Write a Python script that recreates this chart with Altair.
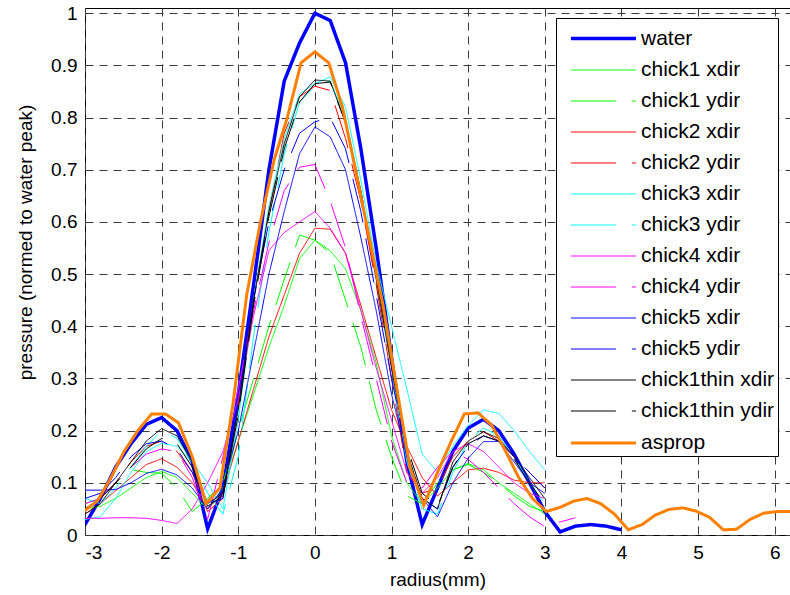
import altair as alt
import pandas as pd

# ---------------- data ----------------
series_names = ["water", "chick1 xdir", "chick1 ydir", "chick2 xdir", "chick2 ydir",
                "chick3 xdir", "chick3 ydir", "chick4 xdir", "chick4 ydir",
                "chick5 xdir", "chick5 ydir", "chick1thin xdir", "chick1thin ydir", "asprop"]
series_colors = ["#0000FF", "#00FF00", "#00FF00", "#FF0000", "#FF0000",
                 "#00FFFF", "#00FFFF", "#FF00FF", "#FF00FF",
                 "#0000FF", "#0000FF", "#000000", "#000000", "#FF8000"]

water_x = [-3.0, -2.8, -2.6, -2.4, -2.2, -2.0, -1.8, -1.6, -1.4, -1.2, -1.0, -0.8, -0.6, -0.4, -0.2,
           0.0, 0.2, 0.4, 0.6, 0.8, 1.0, 1.2, 1.4, 1.6, 1.8, 2.0, 2.2, 2.4, 2.6, 2.8, 3.0,
           3.2, 3.4, 3.6, 3.8, 4.0]
water_y = [0.02, 0.07, 0.13, 0.175, 0.212, 0.225, 0.20, 0.14, 0.012, 0.09, 0.27, 0.48, 0.70, 0.87, 0.943,
           1.0, 0.986, 0.905, 0.74, 0.55, 0.34, 0.14, 0.02, 0.09, 0.16, 0.205, 0.222, 0.20, 0.155, 0.10, 0.045,
           0.006, 0.017, 0.02, 0.017, 0.01]

chick_x = [-3.0, -2.8, -2.6, -2.4, -2.2, -2.0, -1.8, -1.6, -1.4, -1.2, -1.0, -0.8, -0.6, -0.4, -0.2,
           0.0, 0.2, 0.4, 0.6, 0.8, 1.0, 1.2, 1.4, 1.6, 1.8, 2.0, 2.2, 2.4, 2.6, 2.8, 3.0]
chick4_ydir_extra_x = [3.2, 3.4]

chick1_xdir = [0.05, 0.055, 0.07, 0.09, 0.11, 0.122, 0.11, 0.08, 0.05, 0.09, 0.18, 0.27, 0.36, 0.44, 0.53,
               0.565, 0.545, 0.51, 0.43, 0.33, 0.19, 0.10, 0.06, 0.09, 0.125, 0.137, 0.125, 0.10, 0.08, 0.06, 0.04]
chick1_ydir = [0.06, 0.07, 0.10, 0.125, 0.12, 0.118, 0.09, 0.045, 0.07, 0.10, 0.20, 0.30, 0.40, 0.49, 0.575,
               0.565, 0.54, 0.45, 0.36, 0.24, 0.15, 0.075, 0.06, 0.10, 0.125, 0.135, 0.12, 0.10, 0.075, 0.055, 0.045]
chick2_xdir = [0.04, 0.06, 0.085, 0.11, 0.135, 0.146, 0.13, 0.10, 0.05, 0.08, 0.18, 0.28, 0.38, 0.46, 0.54,
               0.588, 0.586, 0.54, 0.44, 0.34, 0.24, 0.17, 0.11, 0.075, 0.10, 0.125, 0.128, 0.12, 0.105, 0.10, 0.10]
chick2_ydir = [0.05, 0.07, 0.10, 0.14, 0.17, 0.18, 0.16, 0.12, 0.045, 0.07, 0.25, 0.45, 0.62, 0.77, 0.84,
               0.86, 0.852, 0.76, 0.64, 0.48, 0.30, 0.12, 0.08, 0.09, 0.15, 0.18, 0.198, 0.18, 0.15, 0.12, 0.09]
chick3_xdir = [0.03, 0.035, 0.07, 0.12, 0.16, 0.176, 0.17, 0.14, 0.10, 0.05, 0.22, 0.45, 0.63, 0.76, 0.845,
               0.865, 0.878, 0.82, 0.68, 0.52, 0.40, 0.28, 0.155, 0.12, 0.17, 0.21, 0.24, 0.233, 0.20, 0.16, 0.125]
chick3_ydir = [0.07, 0.06, 0.09, 0.13, 0.17, 0.20, 0.185, 0.14, 0.08, 0.04, 0.15, 0.38, 0.58, 0.73, 0.83,
               0.86, 0.87, 0.80, 0.66, 0.50, 0.32, 0.14, 0.05, 0.04, 0.12, 0.18, 0.205, 0.19, 0.15, 0.10, 0.06]
chick4_xdir = [0.032, 0.032, 0.033, 0.033, 0.032, 0.028, 0.022, 0.05, 0.10, 0.16, 0.26, 0.42, 0.545, 0.58, 0.60,
               0.62, 0.588, 0.54, 0.43, 0.32, 0.22, 0.12, 0.08, 0.11, 0.16, 0.175, 0.16, 0.13, 0.10, 0.08, 0.07]
chick4_ydir = [0.06, 0.07, 0.10, 0.13, 0.155, 0.165, 0.16, 0.11, 0.03, 0.15, 0.28, 0.43, 0.56, 0.66, 0.705,
               0.71, 0.64, 0.55, 0.42, 0.30, 0.18, 0.10, 0.09, 0.13, 0.16, 0.145, 0.12, 0.09, 0.06, 0.035, 0.016,
               0.025, 0.033]
chick5_xdir = [0.086, 0.086, 0.087, 0.10, 0.118, 0.126, 0.115, 0.09, 0.05, 0.09, 0.20, 0.35, 0.50, 0.62, 0.731,
               0.782, 0.763, 0.70, 0.57, 0.43, 0.27, 0.15, 0.07, 0.035, 0.10, 0.147, 0.179, 0.179, 0.14, 0.10, 0.08]
chick5_ydir = [0.07, 0.08, 0.11, 0.15, 0.175, 0.18, 0.165, 0.12, 0.06, 0.07, 0.25, 0.45, 0.60, 0.70, 0.77,
               0.792, 0.80, 0.74, 0.62, 0.46, 0.30, 0.16, 0.07, 0.05, 0.13, 0.17, 0.19, 0.18, 0.15, 0.12, 0.09]
chick1thin_xdir = [0.04, 0.06, 0.10, 0.14, 0.18, 0.204, 0.19, 0.14, 0.06, 0.08, 0.24, 0.45, 0.62, 0.75, 0.84,
                   0.872, 0.87, 0.79, 0.65, 0.49, 0.32, 0.16, 0.07, 0.05, 0.14, 0.18, 0.198, 0.185, 0.15, 0.11, 0.07]
chick1thin_ydir = [0.05, 0.07, 0.10, 0.13, 0.165, 0.185, 0.175, 0.13, 0.055, 0.075, 0.23, 0.44, 0.61, 0.74, 0.83,
                   0.865, 0.868, 0.79, 0.66, 0.50, 0.33, 0.17, 0.08, 0.055, 0.13, 0.175, 0.19, 0.18, 0.145, 0.10, 0.06]

asprop_x = [-3.02, -2.84, -2.66, -2.49, -2.31, -2.13, -1.95, -1.78, -1.60, -1.42, -1.24, -1.07, -0.89,
            -0.71, -0.53, -0.36, -0.18, 0.0, 0.18, 0.36, 0.53, 0.71, 0.89, 1.07, 1.24, 1.42, 1.60, 1.78,
            1.95, 2.13, 2.31, 2.49, 2.66, 2.84, 3.02, 3.20, 3.38, 3.55, 3.73, 3.91, 4.09, 4.27, 4.44,
            4.62, 4.80, 4.97, 5.15, 5.33, 5.50, 5.68, 5.86, 6.04, 6.21]
asprop_y = [0.045, 0.065, 0.11, 0.16, 0.20, 0.232, 0.232, 0.215, 0.15, 0.06, 0.09, 0.25, 0.46,
            0.60, 0.72, 0.80, 0.905, 0.926, 0.905, 0.82, 0.70, 0.57, 0.44, 0.28, 0.13, 0.057, 0.12, 0.18,
            0.232, 0.234, 0.21, 0.16, 0.11, 0.07, 0.045, 0.053, 0.065, 0.07, 0.06, 0.04, 0.01, 0.02, 0.038,
            0.049, 0.052, 0.046, 0.034, 0.01, 0.011, 0.03, 0.042, 0.045, 0.045]

x_ticks = [-3, -2, -1, 0, 1, 2, 3, 4, 5, 6]
y_ticks = [0, 0.1, 0.2, 0.3, 0.4, 0.5, 0.6, 0.7, 0.8, 0.9, 1]

# ---------------- table ----------------
series_data = {
    "water": (water_x, water_y),
    "chick1 xdir": (chick_x, chick1_xdir),
    "chick1 ydir": (chick_x, chick1_ydir),
    "chick2 xdir": (chick_x, chick2_xdir),
    "chick2 ydir": (chick_x, chick2_ydir),
    "chick3 xdir": (chick_x, chick3_xdir),
    "chick3 ydir": (chick_x, chick3_ydir),
    "chick4 xdir": (chick_x, chick4_xdir),
    "chick4 ydir": (chick_x + chick4_ydir_extra_x, chick4_ydir),
    "chick5 xdir": (chick_x, chick5_xdir),
    "chick5 ydir": (chick_x, chick5_ydir),
    "chick1thin xdir": (chick_x, chick1thin_xdir),
    "chick1thin ydir": (chick_x, chick1thin_ydir),
    "asprop": (asprop_x, asprop_y),
}
rows = []
for name in series_names:
    xs, ys = series_data[name]
    for i, (xv, yv) in enumerate(zip(xs, ys)):
        rows.append({"series": name, "x": xv, "y": yv, "i": i})
df = pd.DataFrame(rows)

dash_range = [[45, 16] if n.endswith("ydir") else [1, 0] for n in series_names]
width_range = [3.5 if n == "water" else (3 if n == "asprop" else 1) for n in series_names]

legend = alt.Legend(
    title=None, orient="none", legendX=471, legendY=10,
    symbolType="M-0.36,0L3.84,0", symbolSize=961, labelOffset=47,
    padding=3, rowPadding=5, labelFontSize=21, labelFont="Liberation Sans",
    labelColor="black", strokeColor="black", fillColor="white", cornerRadius=0,
    labelLimit=300,
)

base = alt.Chart(df).mark_line(clip=True).encode(
    x=alt.X("x:Q", scale=alt.Scale(domain=[-3, 6.2], nice=False, zero=False),
            axis=alt.Axis(values=x_ticks, labelExpr="'' + datum.value", title="radius(mm)",
                          labelPadding=8, titleY=50, titleBaseline="alphabetic")),
    y=alt.Y("y:Q", scale=alt.Scale(domain=[0, 1.01], nice=False),
            axis=alt.Axis(values=y_ticks, format="~g", title="pressure (normed to water peak)",
                          labelPadding=8, titleX=-54, titleY=234, titleBaseline="alphabetic")),
    color=alt.Color("series:N", scale=alt.Scale(domain=series_names, range=series_colors), legend=legend),
    strokeDash=alt.StrokeDash("series:N", scale=alt.Scale(domain=series_names, range=dash_range), legend=legend),
    strokeWidth=alt.StrokeWidth("series:N", scale=alt.Scale(type="ordinal", domain=series_names, range=width_range),
                                legend=legend),
    order="i:Q",
)

layers = [base.transform_filter(alt.datum.series == n) for n in series_names]

chart = alt.layer(*layers).properties(
    width=705, height=527,
    autosize="none",
    padding={"left": 85, "top": 8, "right": 0, "bottom": 60},
    background="white",
).configure_view(
    stroke="black", strokeWidth=1, fill="white"
).configure_axis(
    grid=True, gridDash=[8, 6], gridColor="#3a3a3a", gridWidth=1, gridOpacity=1,
    ticks=False, tickSize=0, domain=False,
    labelFont="Liberation Sans", labelFontSize=19, labelColor="black",
    titleFont="Liberation Sans", titleFontSize=19, titleFontWeight="normal", titleColor="black",
).configure_axisX(
    labelBaseline="top"
)

chart.save("out.html", embed_options={"renderer": "svg", "actions": False})
